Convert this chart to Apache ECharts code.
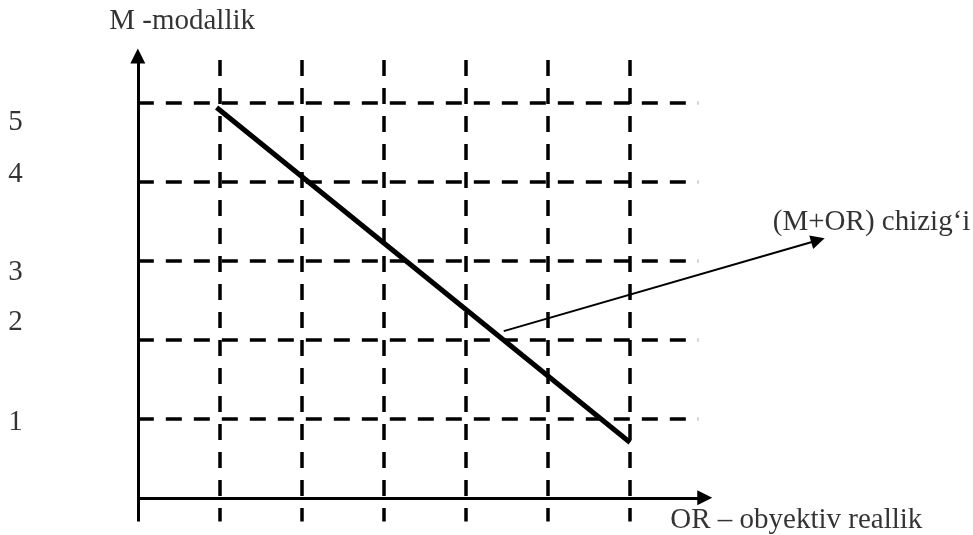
<!DOCTYPE html>
<html><head><meta charset="utf-8">
<script src="https://cdn.jsdelivr.net/npm/echarts@6/dist/echarts.min.js"></script>
<style>html,body{margin:0;padding:0;background:#fff}#c{width:973px;height:535px}</style>
</head><body><div id="c"></div>
<script>
// ---- data ----
const xGridValues = [1, 2, 3, 4, 5, 6];          // vertical dashed lines (OR)
const yGridValues = [1, 2, 3, 4, 5];             // horizontal dashed lines (M)
const yTickLabels = ['5', '4', '3', '2', '1'];
const yTickLabelValues = [4.75, 4.09, 2.85, 2.22, 0.96];
const mainLinePoints = [[0.96, 4.94], [6.0, 0.70]];     // (M+OR) line
const pointerPoints = [[4.46, 2.11], [8.29, 3.26]];     // arrow to caption
const yAxisTitle = 'M -modallik';
const xAxisTitle = 'OR – obyektiv reallik';
const lineTitle = '(M+OR) chizig‘i';

// ---- layout (data units) ----
const vTop = 5.54, vBottom = -0.30, hRight = 6.83;
const yAxisTip = 5.59, xAxisTip = 6.91, labelX = -1.49;
const titlePos = { y: [0.54, 6.03], x: [6.49, -0.29], line: [7.74, 3.48] };

const font = "'Liberation Serif','Times New Roman',serif";
const chart = echarts.init(document.getElementById('c'), null, { renderer: 'canvas' });

function labelSeries(items, align) {
  return {
    type: 'scatter', symbolSize: 0, silent: true, clip: false,
    data: items,
    label: {
      show: true, position: 'inside', formatter: '{b}',
      align: align, verticalAlign: 'middle',
      color: '#000', fontSize: 29, fontFamily: font
    }
  };
}

chart.setOption({
  animation: false,
  backgroundColor: '#fff',
  grid: { left: 0, right: 0, top: 0, bottom: 0, containLabel: false },
  xAxis: { type: 'value', min: -1.68, max: 10.18, show: false },
  yAxis: { type: 'value', min: -0.47, max: 6.3, show: false },
  series: [
    {
      type: 'lines', coordinateSystem: 'cartesian2d', silent: true,
      symbol: 'none',
      lineStyle: { color: '#000', width: 3.5, type: [16, 12], opacity: 1 },
      data: xGridValues.map(x => ({ coords: [[x, vTop], [x, vBottom]] }))
    },
    {
      type: 'lines', coordinateSystem: 'cartesian2d', silent: true,
      symbol: 'none',
      lineStyle: { color: '#000', width: 3.5, type: [16, 12], opacity: 1 },
      data: yGridValues.map(y => ({ coords: [[0, y], [hRight, y]] }))
    },
    {
      type: 'lines', coordinateSystem: 'cartesian2d', silent: true,
      symbol: ['none', 'triangle'], symbolSize: 15,
      lineStyle: { color: '#000', width: 3, type: 'solid', opacity: 1 },
      data: [
        { coords: [[0, vBottom], [0, yAxisTip]] },
        { coords: [[0, 0], [xAxisTip, 0]] }
      ]
    },
    {
      type: 'lines', coordinateSystem: 'cartesian2d', silent: true,
      symbol: 'none',
      lineStyle: { color: '#000', width: 5, type: 'solid', opacity: 1 },
      data: [{ coords: mainLinePoints }]
    },
    {
      type: 'lines', coordinateSystem: 'cartesian2d', silent: true,
      symbol: ['none', 'triangle'], symbolSize: 14,
      lineStyle: { color: '#000', width: 2, type: 'solid', opacity: 1 },
      data: [{ coords: pointerPoints }]
    },
    labelSeries(yTickLabels.map((t, i) => ({ name: t, value: [labelX, yTickLabelValues[i]] })), 'center'),
    labelSeries([{ name: yAxisTitle, value: titlePos.y }], 'center'),
    labelSeries([
      { name: xAxisTitle, value: titlePos.x },
      { name: lineTitle, value: titlePos.line }
    ], 'left')
  ]
});
</script></body></html>
